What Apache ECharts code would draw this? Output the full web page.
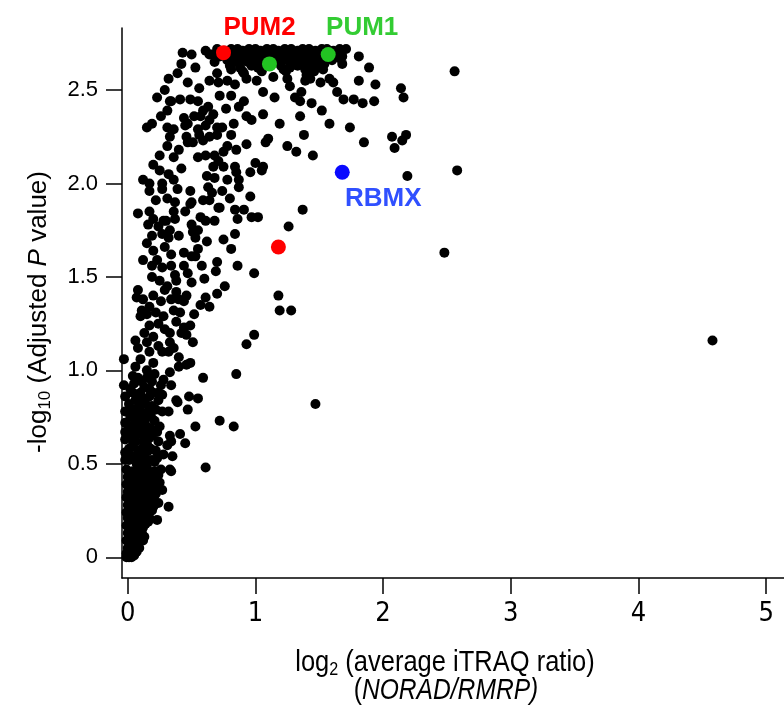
<!DOCTYPE html>
<html><head><meta charset="utf-8">
<script src="https://cdn.jsdelivr.net/npm/echarts@6/dist/echarts.min.js"></script>
<style>html,body{margin:0;padding:0;background:#fff}#c{width:784px;height:709px}</style>
</head><body><div id="c"></div>
<script>
const xTicks = [0, 1, 2, 3, 4, 5];
const yTicks = [0, 0.5, 1, 1.5, 2, 2.5];
const pum2Points = [[0.75, 2.70], [1.18, 1.66]];
const pum1Points = [[1.11, 2.64], [1.57, 2.69]];
const rbmxPoints = [[1.68, 2.06]];
const topBand = [
 [0.70,2.72],[0.76,2.71],[0.81,2.72],[0.86,2.72],[0.90,2.71],[0.95,2.72],[1.00,2.72],[1.04,2.71],[1.09,2.72],[1.14,2.72],[1.18,2.71],[1.23,2.72],[1.28,2.72],[1.33,2.71],[1.37,2.72],[1.42,2.72],[1.47,2.71],[1.52,2.72],[1.56,2.72],[1.61,2.71],[1.66,2.72],[1.71,2.72],
 [0.66,2.69],[0.72,2.68],[0.80,2.69],[0.85,2.68],[0.92,2.69],[0.97,2.68],[1.02,2.69],[1.07,2.68],[1.12,2.69],[1.17,2.68],[1.21,2.69],[1.26,2.68],[1.31,2.69],[1.35,2.68],[1.40,2.69],[1.45,2.68],[1.50,2.69],[1.55,2.67],[1.63,2.69],[1.68,2.68],
 [0.78,2.66],[0.84,2.65],[0.89,2.66],[0.94,2.65],[0.99,2.66],[1.05,2.65],[1.16,2.66],[1.20,2.65],[1.25,2.66],[1.30,2.65],[1.34,2.66],[1.39,2.65],[1.44,2.66],[1.49,2.65],[1.54,2.64],[1.60,2.66],[1.66,2.67],
 [0.80,2.63],[0.88,2.62],[0.97,2.63],[1.02,2.62],[1.20,2.63],[1.27,2.62],[1.33,2.63],[1.42,2.62],[1.48,2.63],[1.53,2.61],
 [0.90,2.60],[1.05,2.60],[1.24,2.60],[1.46,2.60],
 [1.04,2.61],[1.22,2.61],[0.91,2.59],[0.81,2.61],[1.43,2.56],[1.61,2.54],[1.40,2.58],[0.64,2.69],[0.68,2.65]
];
const upperScatter = [
 [0.43,2.70],[0.50,2.69],[0.61,2.71],[0.42,2.64],[0.53,2.62],[0.39,2.59],[0.32,2.56],[0.47,2.54],[0.29,2.50],[0.23,2.46],[0.33,2.44],[0.41,2.45],[0.49,2.45],[0.55,2.44],[0.56,2.51],[0.64,2.55],[0.70,2.59],[0.71,2.54],[0.78,2.55],[0.84,2.53],[0.72,2.47],[0.81,2.47],[0.91,2.44],[0.93,2.56],[1.01,2.55],[1.06,2.49],[1.15,2.46],[1.14,2.57],[1.25,2.56],[1.27,2.52],[1.31,2.46],[1.36,2.49],[1.39,2.55],[1.39,2.61],[1.35,2.44],[1.44,2.43],[1.52,2.39],[1.51,2.54],[1.58,2.56],[1.64,2.49],[1.69,2.45],[1.68,2.64],[1.81,2.68],[1.89,2.62],[1.81,2.55],[1.94,2.53],[1.77,2.45],[1.84,2.43],[1.93,2.44],[2.14,2.51],[2.16,2.46],[2.56,2.60],
 [0.15,2.30],[0.19,2.32],[0.26,2.36],[0.31,2.39],[0.34,2.44],[0.44,2.35],[0.47,2.32],[0.57,2.36],[0.59,2.39],[0.63,2.41],[0.31,2.30],[0.33,2.25],[0.31,2.20],[0.55,2.29],[0.64,2.34],[0.70,2.30],[0.74,2.30],[0.83,2.32],[0.93,2.36],[0.97,2.34],[1.06,2.37],[1.19,2.32],[1.35,2.36],[1.38,2.26],[1.58,2.32],[1.74,2.30],[1.85,2.22],[2.07,2.25],[2.15,2.23],[2.18,2.26],[2.09,2.19],
 [0.46,2.25],[0.47,2.22],[0.51,2.22],[0.59,2.23],[0.64,2.25],[0.70,2.26],[0.81,2.26],[0.85,2.18],[0.93,2.21],[1.08,2.22],[1.10,2.24],[1.25,2.20],[1.32,2.17],[1.45,2.15],[0.25,2.15],[0.36,2.14],[0.55,2.14],[0.61,2.15],[0.68,2.15],[0.75,2.17],
 [0.20,2.10],[0.25,2.07],[0.32,2.05],[0.12,2.02],[0.17,2.00],[0.17,1.96],[0.27,1.97],[0.31,1.92],[0.37,1.90],[0.49,1.96],[0.50,1.90],[0.62,2.04],[0.63,1.98],[0.68,2.03],[0.67,2.09],[0.75,2.09],[0.84,2.09],[0.85,2.06],[0.87,2.02],[0.87,1.98],[0.96,2.06],[1.00,2.11],[1.06,2.09],[1.05,2.07],[0.96,1.93],[0.59,1.91],[0.64,1.91],[0.72,1.87],[0.84,1.86],[0.91,1.86],[0.08,1.84],[0.17,1.85],[1.37,1.86],[2.19,2.04],[2.58,2.07]
];
const middleScatter = [
 [0.20,1.81],[0.28,1.80],[0.37,1.81],[0.33,1.75],[0.27,1.73],[0.19,1.72],[0.15,1.68],[0.20,1.64],[0.12,1.59],[0.19,1.56],[0.27,1.55],[0.34,1.56],[0.34,1.62],[0.44,1.63],[0.51,1.74],[0.53,1.71],[0.50,1.78],[0.57,1.82],[0.61,1.80],[0.68,1.80],[0.62,1.69],[0.55,1.65],[0.53,1.61],[0.58,1.56],[0.70,1.58],[0.75,1.70],[0.81,1.65],[0.84,1.73],[0.86,1.81],[0.97,1.82],[1.02,1.82],[0.71,1.87],[0.49,1.89],[1.26,1.77],[0.86,1.56],[0.69,1.53],[0.99,1.52],[0.37,1.51],[0.38,1.48],[0.50,1.47],[0.60,1.49],[0.76,1.45],[0.70,1.41],[0.61,1.39],[0.64,1.34],[0.57,1.35],[0.46,1.40],[0.44,1.37],[0.38,1.42],[0.34,1.38],[0.36,1.32],[0.29,1.43],[0.20,1.40],[0.12,1.38],[0.08,1.43],[0.07,1.39],[0.11,1.32],[0.17,1.34],[0.15,1.30],[0.10,1.29],[0.52,1.30],[0.49,1.24],[0.44,1.23],[0.42,1.20],[0.51,1.15],[0.33,1.15],[0.29,1.22],[0.24,1.25],[0.20,1.18],[0.15,1.15],[0.06,1.16],[0.08,1.12],[0.17,1.10],[0.24,1.13],[0.32,1.10],[0.40,1.07],[0.46,1.03],[0.49,1.04],[0.40,1.02],[0.33,0.99],[0.34,0.92],[0.28,0.95],[0.20,1.04],[0.15,1.00],[0.06,1.02],[0.04,0.97],[0.11,0.94],[0.17,0.90],[0.10,0.88],[0.24,0.88],[-0.03,1.06],[-0.03,0.92],[0.59,0.96],[0.48,0.86],[0.38,0.84],[0.55,0.85],[0.85,0.98],[0.99,1.19],[0.93,1.14],[1.18,1.40],[1.19,1.32],[1.28,1.32],
 [0.10,1.06],[0.13,1.20],[0.17,1.24],[0.22,1.31],[0.26,1.37],[0.28,1.29],[0.31,1.45],[0.25,1.48],[0.19,1.50],[0.23,1.59],[0.29,1.66],[0.32,1.71],[0.24,1.77],[0.16,1.78],[0.22,1.91],[0.27,2.00],[0.36,2.02],[0.39,1.97],[0.42,2.08],[0.45,1.85],[0.40,1.72],[0.44,1.56],[0.47,1.52],[0.36,1.85],[0.30,1.80],[0.41,1.31],[0.38,1.26],[0.33,1.20],[0.27,1.10],[0.36,1.12],[0.46,1.19],[0.40,1.38],[0.50,1.61],[0.55,1.75],[0.40,2.18],[0.36,2.29],[0.45,2.31],[0.52,2.36],[0.56,2.26],[0.61,2.31],[0.67,2.37],[0.77,2.40],[0.87,2.41],[0.78,2.20],[0.71,2.12],[0.78,2.02],[0.66,1.95],[0.74,1.96],[0.80,1.92],
 [2.48,1.63],[4.58,1.16],[1.47,0.82]
];
const lowerScatter = [
 [0.07,0.87],[0.12,0.85],[0.20,0.88],[0.27,0.87],[0.39,0.83],[0.47,0.79],[0.72,0.73],[0.83,0.70],[0.53,0.70],[0.27,0.78],[0.32,0.78],[0.06,0.79],[0.12,0.77],[0.07,0.73],[0.15,0.70],[0.04,0.67],[0.10,0.66],[0.19,0.65],[-0.02,0.72],[-0.02,0.63],[0.33,0.65],[0.41,0.66],[0.34,0.62],[0.45,0.61],[0.31,0.60],[0.04,0.60],[0.11,0.58],[0.16,0.57],[0.10,0.55],[0.19,0.52],[0.28,0.55],[0.35,0.54],[0.21,0.51],[-0.02,0.52],[0.61,0.48],[0.33,0.47],[0.34,0.46],[0.07,0.50],[0.19,0.43],[0.20,0.40],[0.27,0.36],[0.21,0.29],[0.32,0.27],[0.23,0.20],[0.16,0.24],[0.11,0.15],[0.08,0.09],[0.04,0.06],[0.03,0.01],
 [-0.02,0.56],[0.01,0.58],[0.03,0.54],[0.06,0.62],[0.08,0.57],[0.13,0.54],[0.15,0.61],[0.18,0.58],[0.22,0.57],[0.24,0.62],
 [-0.02,0.67],[0.01,0.70],[0.02,0.75],[0.05,0.71],[0.09,0.69],[0.11,0.72],[0.13,0.66],[0.18,0.69],[0.21,0.73],[0.23,0.67],[0.25,0.70],
 [-0.02,0.78],[0.01,0.82],[0.03,0.79],[0.09,0.80],[0.14,0.82],[0.16,0.78],[0.19,0.81],[0.22,0.79],[0.24,0.84],
 [-0.02,0.86],[0.02,0.90],[0.05,0.93],[0.08,0.96],[0.13,0.91],[0.15,0.96],[0.19,0.94],[0.21,0.98],[0.26,0.92],
 [0.03,0.64],[0.07,0.66],[0.12,0.62],[0.17,0.64],[0.05,0.76],[0.10,0.75],[0.14,0.74],[0.18,0.76],[0.06,0.84],[0.10,0.83],[0.17,0.86],[0.04,0.88],[0.01,0.52],[0.06,0.53],[0.12,0.51],[0.16,0.52],[0.23,0.53]
];
const denseNearZero = [
 [-0.01,0.47],[0.04,0.46],[0.09,0.47],[0.15,0.48],[0.21,0.46],[0.26,0.47],
 [0.00,0.43],[0.06,0.42],[0.11,0.44],[0.17,0.43],[0.22,0.42],
 [-0.01,0.39],[0.04,0.40],[0.10,0.38],[0.15,0.39],[0.20,0.38],[0.25,0.40],
 [0.00,0.35],[0.06,0.36],[0.11,0.35],[0.17,0.36],[0.22,0.34],
 [-0.01,0.32],[0.04,0.31],[0.10,0.32],[0.15,0.31],[0.20,0.32],
 [0.00,0.28],[0.06,0.27],[0.11,0.28],[0.17,0.28],[0.24,0.29],
 [-0.01,0.24],[0.04,0.25],[0.10,0.24],[0.15,0.23],[0.19,0.25],
 [0.00,0.21],[0.06,0.20],[0.11,0.21],[0.16,0.19],
 [-0.01,0.17],[0.04,0.16],[0.10,0.17],[0.14,0.18],
 [0.00,0.13],[0.06,0.12],[0.11,0.13],[0.13,0.11],
 [-0.01,0.09],[0.04,0.10],[0.09,0.08],
 [0.00,0.05],[0.06,0.06],[0.07,0.03],
 [-0.01,0.02],[0.03,0.02],[0.05,0.01],
 [0.01,0.00],[0.03,0.00],[-0.01,0.00],
 [0.02,0.45],[0.07,0.44],[0.13,0.45],[0.18,0.45],[0.24,0.44],
 [0.02,0.41],[0.08,0.40],[0.13,0.41],[0.18,0.41],[0.23,0.38],
 [0.02,0.37],[0.08,0.38],[0.13,0.37],[0.19,0.35],
 [0.02,0.33],[0.08,0.33],[0.13,0.34],[0.18,0.30],
 [0.02,0.30],[0.08,0.29],[0.13,0.30],[0.20,0.27],
 [0.02,0.26],[0.08,0.26],[0.13,0.26],[0.17,0.21],
 [0.02,0.22],[0.08,0.22],[0.13,0.23],[0.14,0.20],
 [0.02,0.19],[0.07,0.18],[0.12,0.16],[0.08,0.14],
 [0.02,0.15],[0.03,0.11],[0.08,0.11],[0.12,0.09],
 [0.02,0.07],[0.05,0.04],[0.09,0.05],[0.01,0.03]
];
const otherProteins = [].concat(topBand, upperScatter, middleScatter, lowerScatter, denseNearZero);

const FONT = "'Liberation Sans', Arial, sans-serif";
const NARROW = "'Liberation Sans Narrow', 'Arial Narrow', 'DejaVu Sans Condensed', sans-serif";
const chart = echarts.init(document.getElementById('c'), null, {renderer: 'canvas'});

function labelled(points, idx, text, color, offset) {
  return points.map((p, i) => i === idx ? {
    value: p,
    label: {show: true, formatter: text, position: 'inside', offset: offset,
      color: color, fontFamily: FONT, fontWeight: 'bold', fontSize: 26, opacity: 1}
  } : p);
}

chart.setOption({
  animation: false,
  backgroundColor: '#fff',
  grid: {left: 122, right: 0, top: 28, bottom: 131, containLabel: false},
  xAxis: {
    type: 'value', min: -0.045, max: 5.14,
    axisLine: {show: true, onZero: false, lineStyle: {color: '#000', width: 1.5}},
    axisTick: {show: true, inside: false, length: 16, lineStyle: {color: '#000', width: 1.5}, customValues: xTicks},
    axisLabel: {show: true, margin: 22, color: '#000', fontSize: 27, fontFamily: NARROW,
      customValues: xTicks, formatter: v => String(v)},
    splitLine: {show: false}
  },
  yAxis: {
    type: 'value', min: -0.111, max: 2.832,
    axisLine: {show: true, onZero: false, lineStyle: {color: '#000', width: 1.5}},
    axisTick: {show: true, inside: false, length: 16, lineStyle: {color: '#000', width: 1.5}, customValues: yTicks},
    axisLabel: {show: true, margin: 24, color: '#000', fontSize: 22, fontFamily: FONT,
      customValues: yTicks, formatter: v => v === 0 ? '0' : v.toFixed(1)},
    splitLine: {show: false}
  },
  graphic: [
    {type: 'text', x: 445, y: 663, scaleX: 0.85, style: {
      text: '{a|log}{s|2}{a| (average iTRAQ ratio)}', align: 'center', verticalAlign: 'middle',
      rich: {a: {fontSize: 30, fontFamily: FONT, fill: '#000', lineHeight: 32},
             s: {fontSize: 19, fontFamily: FONT, fill: '#000', lineHeight: 32, verticalAlign: 'bottom'}}}},
    {type: 'text', x: 446, y: 691, scaleX: 0.82, style: {
      text: '{a|(}{i|NORAD/RMRP)}', align: 'center', verticalAlign: 'middle',
      rich: {a: {fontSize: 30, fontFamily: FONT, fill: '#000'},
             i: {fontSize: 30, fontFamily: FONT, fontStyle: 'italic', fill: '#000'}}}},
    {type: 'text', x: 39, y: 312, rotation: Math.PI / 2, style: {
      text: '{a|-log}{s|10}{a| (Adjusted }{i|P}{a| value)}', align: 'center', verticalAlign: 'middle',
      rich: {a: {fontSize: 26, fontFamily: FONT, fill: '#000', lineHeight: 30},
             s: {fontSize: 17, fontFamily: FONT, fill: '#000', lineHeight: 30, verticalAlign: 'bottom'},
             i: {fontSize: 26, fontFamily: FONT, fontStyle: 'italic', fill: '#000', lineHeight: 30}}}}
  ],
  series: [
    {type: 'scatter', name: 'other', data: otherProteins, symbolSize: 10,
      itemStyle: {color: '#000', opacity: 1}, z: 2},
    {type: 'scatter', name: 'PUM2', data: labelled(pum2Points, 0, 'PUM2', '#ff0000', [36, -25]),
      symbolSize: 15, itemStyle: {color: '#ff0000', opacity: 1}, z: 3},
    {type: 'scatter', name: 'PUM1', data: labelled(pum1Points, 1, 'PUM1', '#33cc33', [34, -27]),
      symbolSize: 15, itemStyle: {color: '#22c322', opacity: 1}, z: 3},
    {type: 'scatter', name: 'RBMX', data: labelled(rbmxPoints, 0, 'RBMX', '#3050ff', [41, 27]),
      symbolSize: 15, itemStyle: {color: '#0a0aff', opacity: 1}, z: 3}
  ]
});
</script></body></html>
